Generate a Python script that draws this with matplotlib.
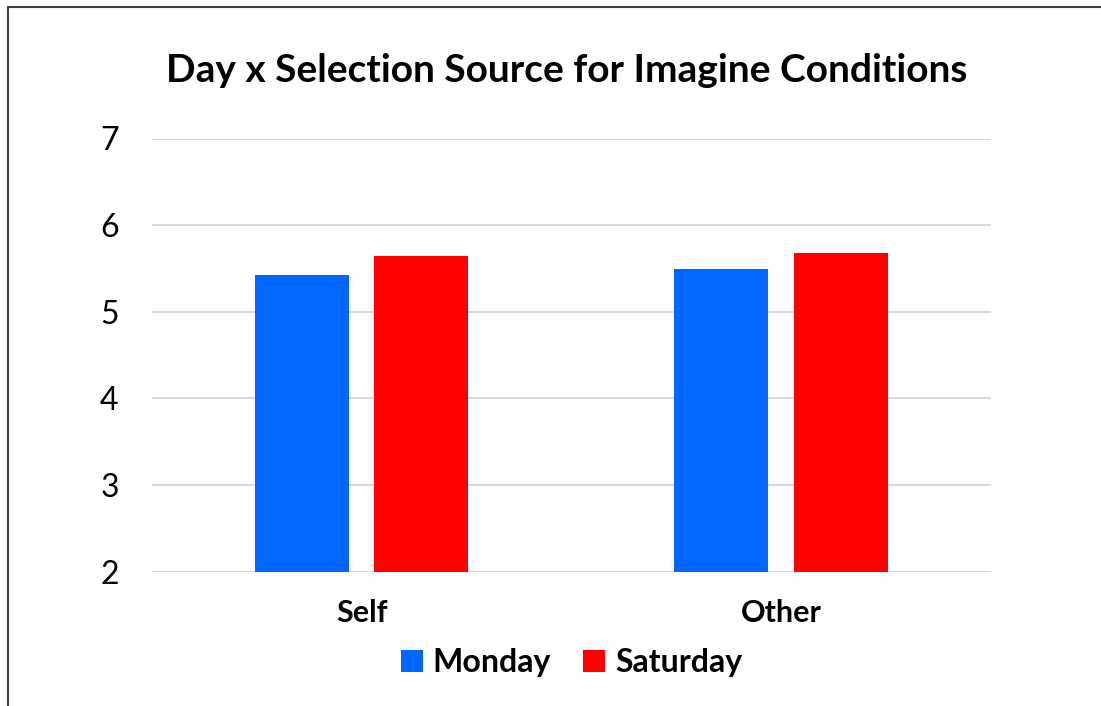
import numpy as np
import matplotlib
matplotlib.use("Agg")
import matplotlib.pyplot as plt
from matplotlib.patches import Rectangle

plt.rcParams['font.family'] = ['Lato', 'DejaVu Sans']

# mean ratings by selection source
sources = ["Self", "Other"]
monday = [5.42, 5.49]
saturday = [5.64, 5.68]
yticks = [2, 3, 4, 5, 6, 7]

fig = plt.figure(figsize=(11.01, 7.06), dpi=100)
ax = fig.add_axes([152 / 1101, 1 - 571.5 / 706, 839 / 1101, 433 / 706])

x = np.arange(len(sources))
w = 0.224
ax.bar(x - 0.143, monday, w, bottom=0, color='#0066ff', label='Monday', zorder=3)
ax.bar(x + 0.142, saturday, w, bottom=0, color='#ff0000', label='Saturday', zorder=3)

ax.set_xlim(-0.5, 1.5)
ax.set_ylim(2, 7)
ax.set_yticks(yticks)
ax.set_xticks(x)
ax.set_xticklabels(sources, fontsize=22, fontweight='bold')
ax.tick_params(axis='y', labelsize=23, length=0, pad=24)
ax.tick_params(axis='x', length=0, pad=20)
ax.grid(axis='y', color='#d9d9d9', linewidth=1.5, zorder=0)
for s in ax.spines.values():
    s.set_visible(False)

fig.text(567 / 1101, 1 - 70 / 706, 'Day x Selection Source for Imagine Conditions',
         ha='center', va='center', fontsize=28, fontweight='bold')

ax.legend(loc='center', bbox_to_anchor=(0.5, -0.21), ncol=2, frameon=False,
          prop={'size': 23, 'weight': 'bold'}, handlelength=0.7, handleheight=0.7,
          columnspacing=1.0, handletextpad=0.3)

# outer chart border
fig.patches.append(Rectangle((8 / 1101, -0.1), 1.2, 1 - 7 / 706 + 0.1,
                             transform=fig.transFigure, fill=False,
                             edgecolor='#404040', linewidth=1.5))

fig.savefig('out.png', dpi=100)
